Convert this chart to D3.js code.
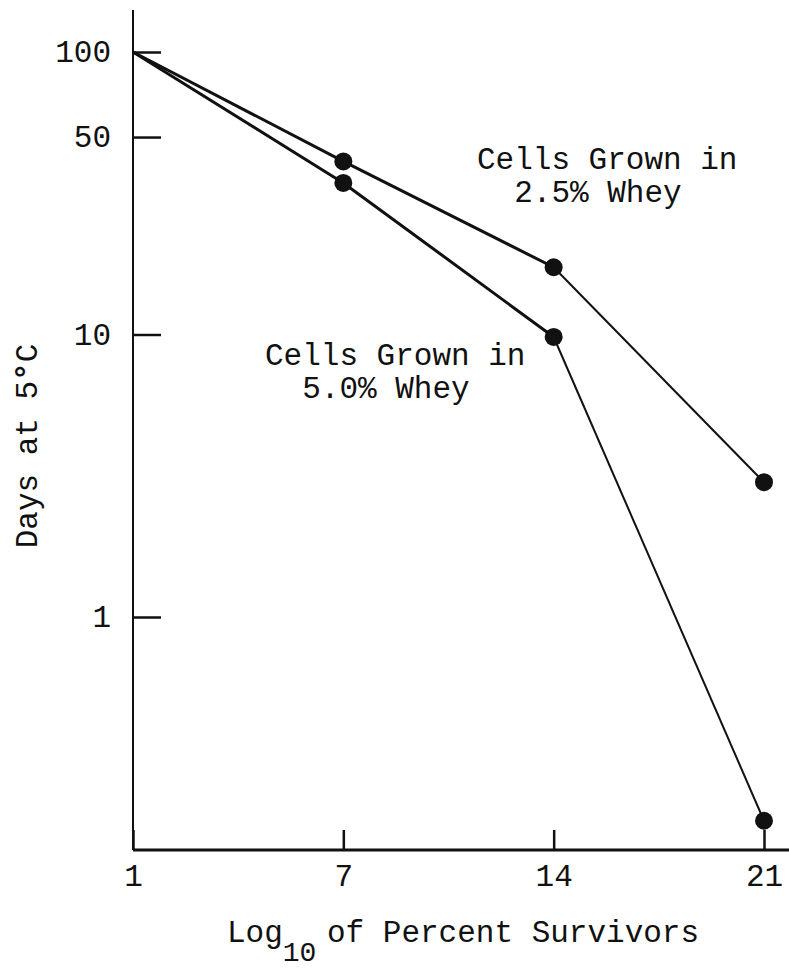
<!DOCTYPE html>
<html>
<head>
<meta charset="utf-8">
<script src="https://cdn.jsdelivr.net/npm/d3@7"></script>
<style>
  body { margin: 0; background: #fff; }
  text { font-family: "Liberation Mono", "Courier New", monospace; fill: #111; }
</style>
</head>
<body>
<script>
// survival of cells held at 5 C, log y axis

// data
var xLabels = ["1", "7", "14", "21"];
var yTicks = [100, 50, 10, 1];
var whey25 = [100, 41, 17.3, 3.0];   // cells grown in 2.5% whey
var whey50 = [100, 34.4, 9.8, 0.19]; // cells grown in 5.0% whey

var width = 789, height = 971,
    fs = 31, cw = fs * 0.6;

var svg = d3.select("body").append("svg")
    .attr("width", width)
    .attr("height", height);

var x = d3.scalePoint().domain(xLabels).range([133, 764]),
    y = d3.scaleLog().domain([1, 100]).range([617, 52]);

var axisY = 850;

// axes lines drawn by hand so they run past the last tick
svg.append("line")
    .attr("x1", x("1")).attr("x2", width)
    .attr("y1", axisY).attr("y2", axisY)
    .attr("stroke", "#111").attr("stroke-width", 3);

svg.append("line")
    .attr("x1", x("1")).attr("x2", x("1"))
    .attr("y1", 10).attr("y2", axisY)
    .attr("stroke", "#111").attr("stroke-width", 2);

var gx = svg.append("g")
    .attr("transform", "translate(0," + axisY + ")")
    .call(d3.axisBottom(x).tickSizeInner(-20).tickSizeOuter(0).tickPadding(14));

var gy = svg.append("g")
    .attr("transform", "translate(" + x("1") + ",0)")
    .call(d3.axisLeft(y).tickValues(yTicks).tickSizeInner(-28).tickSizeOuter(0)
        .tickPadding(22).tickFormat(d3.format("d")));

[gx, gy].forEach(function(g) {
  g.select(".domain").remove();
  g.selectAll(".tick line").attr("stroke", "#111").attr("stroke-width", 2.5);
  g.selectAll(".tick text").style("font-size", fs + "px").attr("fill", "#111")
      .style("font-family", "'Liberation Mono', monospace");
});

// series: segments get thinner on the last leg, as in the original
var segW = [3, 3, 2];
[whey25, whey50].forEach(function(vals) {
  var pts = vals.map(function(v, i) { return [x(xLabels[i]), y(v)]; });
  d3.pairs(pts).forEach(function(p, i) {
    svg.append("line")
        .attr("x1", p[0][0]).attr("y1", p[0][1])
        .attr("x2", p[1][0]).attr("y2", p[1][1])
        .attr("stroke", "#111").attr("stroke-width", segW[i]);
  });
  svg.selectAll(null)
      .data(pts.slice(1))
      .enter().append("circle")
      .attr("cx", function(d) { return d[0]; })
      .attr("cy", function(d) { return d[1]; })
      .attr("r", 9)
      .attr("fill", "#111");
});

// series labels
function label(x0, y0, l1, l2) {
  svg.append("text").attr("x", x0).attr("y", y0)
      .style("font-size", fs + "px").text(l1);
  svg.append("text").attr("x", x0 + 2 * cw).attr("y", y0 + 33)
      .style("font-size", fs + "px").text(l2);
}
label(477, 169, "Cells Grown in", "2.5% Whey");
label(265, 365, "Cells Grown in", "5.0% Whey");

// x axis title with subscript
var xt = svg.append("text").attr("y", 942).style("font-size", fs + "px");
xt.append("tspan").attr("x", 227).text("Log");
xt.append("tspan").attr("x", 227 + 3 * cw).attr("y", 961)
    .style("font-size", "28px").text("10");
xt.append("tspan").attr("x", 327).attr("y", 942).text("of Percent Survivors");

// y axis title
var yt = svg.append("text")
    .attr("transform", "translate(37,446) rotate(-90)")
    .style("text-anchor", "middle")
    .style("font-size", fs + "px");
yt.append("tspan").text("Days at 5");
yt.append("tspan").style("font-weight", "bold").text("°");
yt.append("tspan").text("C");
</script>
</body>
</html>
